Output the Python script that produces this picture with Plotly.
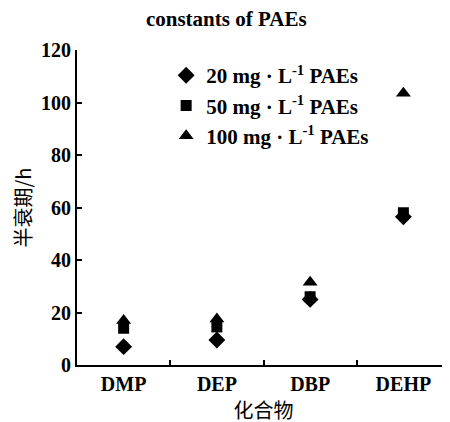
import plotly.graph_objects as go

categories = ["DMP", "DEP", "DBP", "DEHP"]
series_names = ["20 mg · L<sup>-1</sup> PAEs", "50 mg · L<sup>-1</sup> PAEs", "100 mg · L<sup>-1</sup> PAEs"]
v20 = [7, 9.5, 25, 56.5]
v50 = [14, 14.5, 26, 58]
v100 = [17, 17.5, 31.5, 103.5]
y_ticks = [0, 20, 40, 60, 80, 100, 120]

serif = "Liberation Serif"
fig = go.Figure()
for i, (name, vals, sym, sz) in enumerate([(series_names[0], v20, "diamond", 13),
                                           (series_names[1], v50, "square", 11),
                                           (series_names[2], v100, "triangle-up", 13)]):
    fig.add_trace(go.Scatter(x=categories, y=vals, mode="markers", name=name,
                             marker=dict(symbol=sym, size=sz, color="black")))

tf = dict(family=serif, size=20, color="black", weight="bold")
fig.update_layout(
    width=450, height=422,
    margin=dict(l=69, r=8, t=42, b=65, autoexpand=False),
    paper_bgcolor="white", plot_bgcolor="white",
    title=dict(text="constants of PAEs", x=0.485, xanchor="center", y=0.975, yanchor="middle",
               font=dict(family=serif, size=21, color="black", weight="bold")),
    font=dict(family=serif, color="black"),
    legend=dict(x=0.239, y=0.984, xanchor="left", yanchor="top", bgcolor="rgba(0,0,0,0)",
                font=dict(family=serif, size=21, color="black", weight="bold"), itemwidth=30),
    showlegend=True,
)
fig.update_xaxes(type="category", range=[-0.5, 3.5], showline=True, linecolor="black", linewidth=2,
                 ticks="inside", tickson="boundaries", ticklen=5, tickcolor="black", tickwidth=2,
                 showgrid=False, zeroline=False, tickfont=tf, automargin=False,
                 title=dict(text="化合物", font=dict(family="Noto Sans CJK SC", size=20, color="black"), standoff=1))
fig.update_yaxes(range=[0, 120], tickvals=y_ticks, showline=True, linecolor="black", linewidth=2,
                 ticks="inside", ticklen=5, tickcolor="black", tickwidth=2, automargin=False,
                 showgrid=False, zeroline=False, tickfont=tf,
                 title=dict(text="半衰期/h", font=dict(family="Noto Sans CJK SC", size=20, color="black"), standoff=10))
fig.write_html("out.html")
